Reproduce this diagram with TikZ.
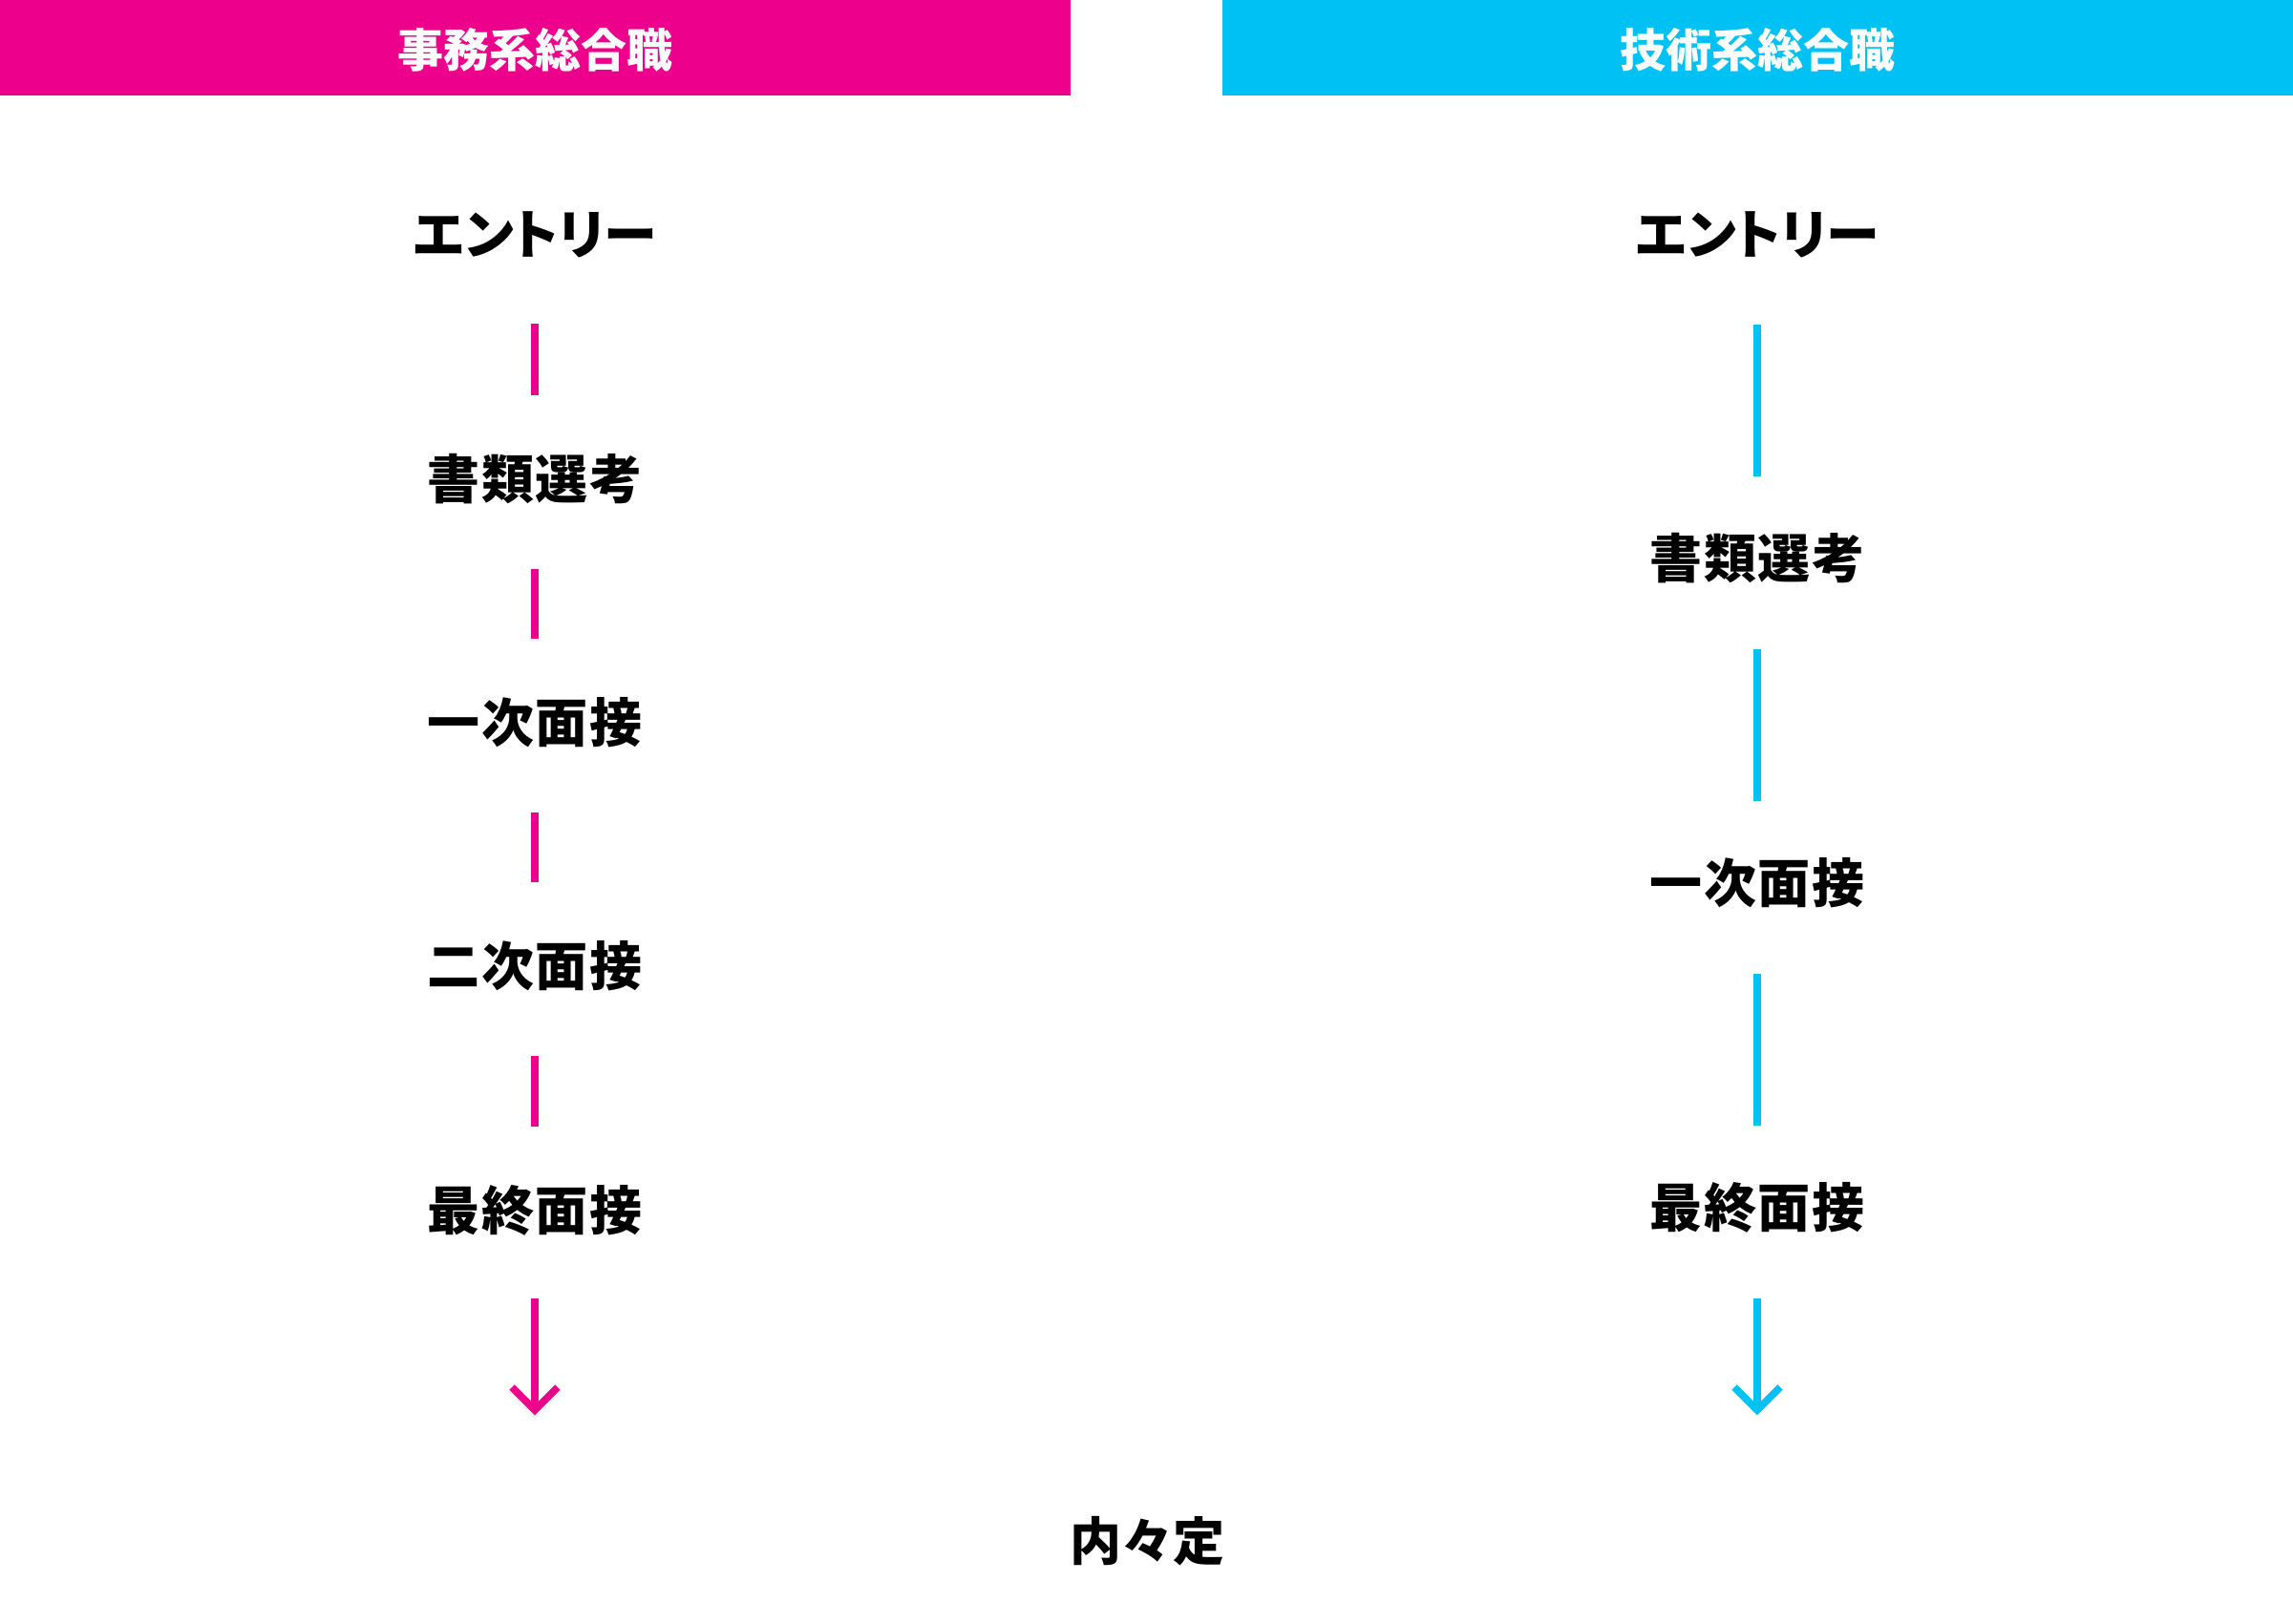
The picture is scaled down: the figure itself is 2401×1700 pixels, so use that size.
\documentclass[tikz,border=0pt]{standalone}
\usepackage{fontspec}
\usetikzlibrary{calc}
\newfontfamily\jp[LetterSpace=3]{Noto Sans CJK JP}
\newfontfamily\jpk[RawFeature=+palt]{Noto Sans CJK JP}
\newfontfamily\jph{Noto Sans CJK JP}
\newfontfamily\jpn{Noto Sans CJK JP}
\definecolor{mag}{HTML}{EC008C}
\definecolor{cya}{HTML}{00C1F3}
\begin{document}
\begin{tikzpicture}[x=1pt,y=-1pt,
  lab/.style={inner sep=0pt,text height=48.4pt,text depth=6.6pt,font=\jp\bfseries\fontsize{55}{55}\selectfont,text=black},
  labk/.style={inner sep=0pt,text height=49.3pt,text depth=6.7pt,font=\jpk\bfseries\fontsize{56}{56}\selectfont,text=black},
  fin/.style={inner sep=0pt,text height=47.5pt,text depth=6.5pt,font=\jpn\bfseries\fontsize{54}{54}\selectfont,text=black},
  head/.style={inner sep=0pt,text height=42.2pt,text depth=5.8pt,font=\jph\bfseries\fontsize{48}{48}\selectfont,text=white},
  conn/.style={line width=7.5pt},
  magline/.style={conn,draw=mag},
  cyaline/.style={conn,draw=cya}]
\useasboundingbox (0,0) rectangle (2401,1700);
\fill[white] (0,0) rectangle (2401,1700);
% header bars
\fill[mag] (0,0) rectangle (1121,100);
\fill[cya] (1280,0) rectangle (2401,100);
\node[head] (hl) at (560,52) {事務系総合職};
\node[head] (hr) at (1840,52) {技術系総合職};
% left column
\node[labk] (l1) at (560,245) {エントリー};
\node[lab] (l2) at (560,502) {書類選考};
\node[lab] (l3) at (560,757) {一次面接};
\node[lab] (l4) at (560,1012) {二次面接};
\node[lab] (l5) at (560,1268) {最終面接};
\coordinate (lt) at (560,1477);
\draw[magline,shorten <=94pt,shorten >=88pt] (l1.center) -- (l2.center);
\draw[magline,shorten <=94pt,shorten >=88pt] (l2.center) -- (l3.center);
\draw[magline,shorten <=94pt,shorten >=88pt] (l3.center) -- (l4.center);
\draw[magline,shorten <=94pt,shorten >=88pt] (l4.center) -- (l5.center);
\draw[magline,shorten <=92pt] (l5.center) -- (lt);
\draw[magline,line join=miter] ($(lt)+(-24,-24)$) -- (lt) -- ($(lt)+(24,-24)$);
% right column
\node[labk] (r1) at (1840,245) {エントリー};
\node[lab] (r2) at (1840,585) {書類選考};
\node[lab] (r3) at (1840,925) {一次面接};
\node[lab] (r4) at (1840,1265) {最終面接};
\coordinate (rt) at (1840,1477);
\draw[cyaline,shorten <=95pt,shorten >=86pt] (r1.center) -- (r2.center);
\draw[cyaline,shorten <=95pt,shorten >=86pt] (r2.center) -- (r3.center);
\draw[cyaline,shorten <=95pt,shorten >=86pt] (r3.center) -- (r4.center);
\draw[cyaline,shorten <=95pt] (r4.center) -- (rt);
\draw[cyaline,line join=miter] ($(rt)+(-24,-24)$) -- (rt) -- ($(rt)+(24,-24)$);
% final
\node[fin] (fin) at (1201,1614) {内々定};
\end{tikzpicture}
\end{document}
